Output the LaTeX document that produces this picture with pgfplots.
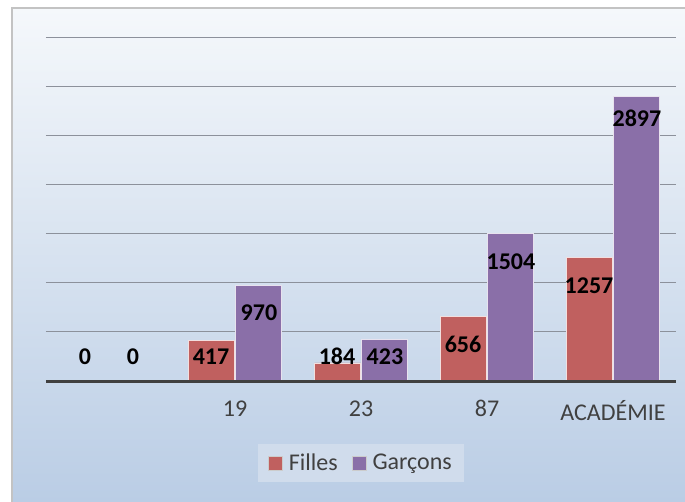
\documentclass[border=0pt]{standalone}
\usepackage{pgfplots}
\pgfplotsset{compat=1.18}
\usepackage{fontspec}
\setmainfont{Carlito}
\definecolor{fil}{RGB}{192,96,95}
\definecolor{gar}{RGB}{138,111,168}
\definecolor{bgtop}{RGB}{245,248,251}
\definecolor{bgbot}{RGB}{186,205,229}
\definecolor{txt}{RGB}{64,64,64}
\definecolor{legbg}{RGB}{208,220,236}
\begin{document}
\begin{tikzpicture}[x=1pt,y=1pt]
\path[use as bounding box] (-46,-120) rectangle (639,381);
\shade[top color=bgtop, bottom color=bgbot] (-34,-121) rectangle (640,373);
\draw[line width=1.5pt, color={rgb,255:red,195;green,195;blue,195}] (-34,-121) -- (-34,373) -- (640,373);
\begin{axis}[
  at={(0,0)}, anchor=south west,
  scale only axis, width=630pt, height=344pt,
  xmin=-0.5, xmax=4.5, ymin=0, ymax=3500,
  xtick={0,1,2,3,4}, xticklabels={,19,23,87,ACADÉMIE},
  ytick={500,1000,...,3500}, yticklabels={},
  ymajorgrids, major grid style={color={rgb,255:red,140;green,145;blue,155}, line width=0.9pt},
  axis line style={draw=none}, tick style={draw=none},
  xticklabel style={font=\fontsize{24}{26}\selectfont, text=txt, yshift=-16pt},
  clip=false,
  legend columns=2,
  legend style={at={(0.5,-0.238)}, anchor=center, draw=none, fill=legbg,
    font=\fontsize{24}{26}\selectfont, text=txt, inner xsep=10pt, inner ysep=8pt,
    /tikz/every odd column/.append style={inner xsep=0pt},
    /tikz/every even column/.append style={column sep=12pt}},
  legend cell align=left,
  legend image code/.code={\draw[#1, draw=white!60!gray, line width=0.6pt] (0pt,-7pt) rectangle (14pt,7pt); \path (18pt,0pt);},
]
\addplot[ybar, bar width=46pt, bar shift=-23.5pt, fill=fil, draw=white!80!fil, line width=0.8pt]
  coordinates {(0,0) (1,417) (2,184) (3,656) (4,1257)};
\addlegendentry{Filles}
\addplot[ybar, bar width=46pt, bar shift=23.5pt, fill=gar, draw=white!80!gar, line width=0.8pt]
  coordinates {(0,0) (1,970) (2,423) (3,1504) (4,2897)};
\addlegendentry{Garçons}
\addplot[draw=none, mark=none, forget plot, nodes near coords, point meta=explicit symbolic,
  every node near coord/.append style={anchor=center, font=\fontsize{24}{26}\selectfont\bfseries, text=black, inner sep=0pt}]
  table[meta=l] {
x y l
-0.19 250 0
0.81 250 417
1.81 250 184
2.81 377 656
3.81 969 1257
};
\addplot[draw=none, mark=none, forget plot, nodes near coords, point meta=explicit symbolic,
  every node near coord/.append style={anchor=center, font=\fontsize{24}{26}\selectfont\bfseries, text=black, inner sep=0pt}]
  table[meta=l] {
x y l
0.19 250 0
1.19 694 970
2.19 250 423
3.19 1214 1504
4.19 2672 2897
};
\draw[line width=3pt, color={rgb,255:red,64;green,64;blue,64}] (rel axis cs:0,0) -- (rel axis cs:1,0);
\end{axis}
\end{tikzpicture}
\end{document}
